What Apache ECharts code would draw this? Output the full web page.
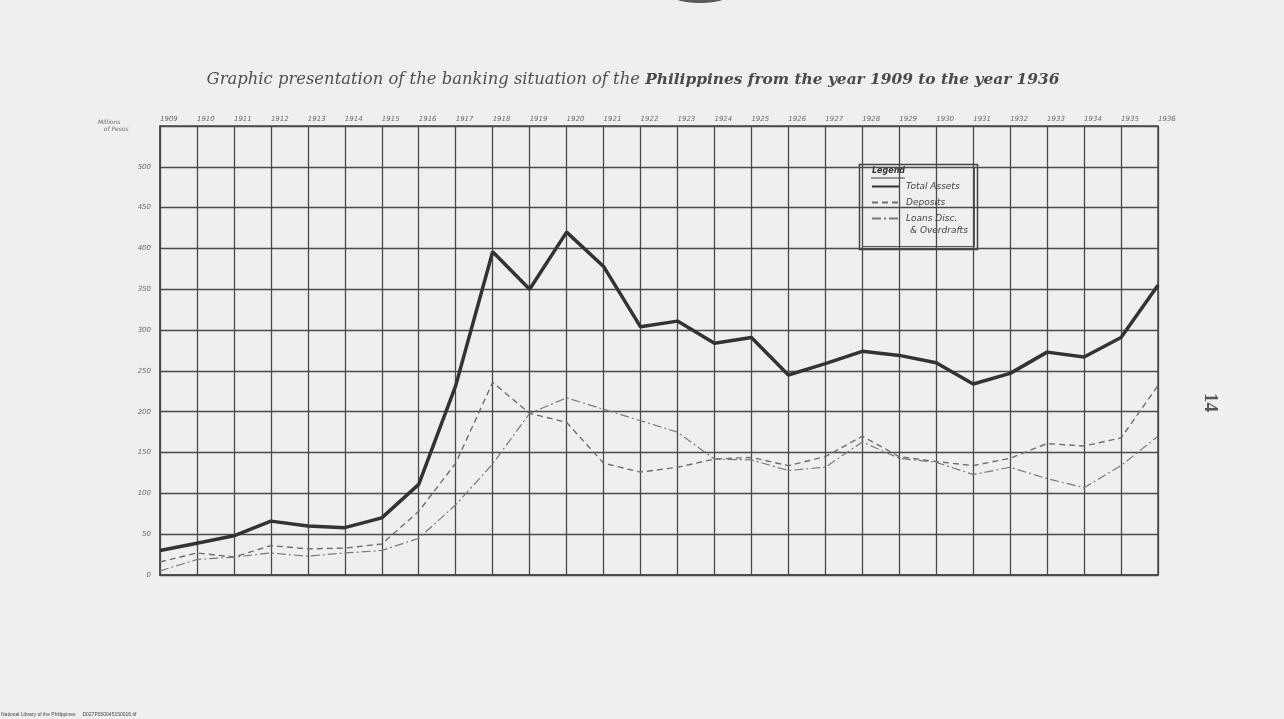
<!DOCTYPE html>
<html>
<head>
<meta charset="utf-8">
<script src="https://cdn.jsdelivr.net/npm/echarts@6/dist/echarts.min.js"></script>
<style>
html,body{margin:0;padding:0;background:#efefed;}
#chart{width:1284px;height:719px;}
</style>
</head>
<body>
<div id="chart"></div>
<script>
var years = ['1909','1910','1911','1912','1913','1914','1915','1916','1917','1918','1919','1920','1921','1922','1923','1924','1925','1926','1927','1928','1929','1930','1931','1932','1933','1934','1935','1936'];
var totalAssets = [30, 39, 48, 66, 60, 58, 70, 111, 232, 396, 350, 420, 378, 304, 311, 284, 291, 245, 259, 274, 269, 260, 234, 247, 273, 267, 291, 355];
var deposits = [16, 27, 22, 36, 32, 33, 38, 78, 137, 236, 198, 187, 137, 126, 132, 142, 144, 134, 145, 170, 145, 139, 134, 143, 161, 158, 168, 232];
var loans = [5, 19, 22, 27, 23, 27, 30, 45, 86, 136, 198, 217, 203, 189, 175, 142, 141, 128, 132, 163, 143, 138, 123, 132, 118, 107, 134, 170];
var yTicks = [0, 50, 100, 150, 200, 250, 300, 350, 400, 450, 500];

var chart = echarts.init(document.getElementById('chart'));
var gridColor = '#4a4a4a';
var hand = {fontFamily: 'DejaVu Sans', fontStyle: 'italic', color: '#6a6a6a'};

chart.setOption({
  backgroundColor: '#efefed',
  animation: false,
  title: {
    text: 'Graphic presentation of the banking situation of the {b|Philippines from the year 1909 to the year 1936}',
    left: 628, top: 67, textAlign: 'center',
    textStyle: {
      fontFamily: 'DejaVu Serif', fontStyle: 'italic', fontWeight: 'normal',
      fontSize: 16.4, color: '#505050',
      rich: {b: {fontFamily: 'DejaVu Serif', fontStyle: 'italic', fontWeight: 'bold', fontSize: 15.4, color: '#4a4a4a'}}
    }
  },
  grid: {left: 160, right: 126, top: 126, bottom: 144, show: true, borderColor: gridColor, borderWidth: 1.5, backgroundColor: 'transparent'},
  legend: {
    left: 866, top: 176, orient: 'vertical', itemWidth: 27, itemHeight: 8, itemGap: 5,
    itemStyle: {opacity: 0},
    textStyle: {fontFamily: 'DejaVu Sans', fontStyle: 'italic', fontSize: 9, color: '#444', lineHeight: 11, padding: [0, 0, 0, 2]},
    data: ['Total Assets', 'Deposits', 'Loans Disc.']
  },
  xAxis: {
    type: 'category', data: years, boundaryGap: false, position: 'top',
    axisLine: {show: true, lineStyle: {color: gridColor, width: 1.5}},
    axisTick: {show: false},
    axisLabel: Object.assign({interval: 0, fontSize: 7, margin: 3, align: 'left'}, hand),
    splitLine: {show: true, interval: 0, lineStyle: {color: gridColor, width: 1.3}}
  },
  yAxis: {
    type: 'value', min: 0, max: 550, interval: 50,
    axisLine: {show: true, lineStyle: {color: gridColor, width: 1.5}},
    axisTick: {show: false},
    axisLabel: Object.assign({fontSize: 7, margin: 9, formatter: function (v) { return yTicks.indexOf(v) >= 0 ? String(v) : ''; }}, hand),
    splitLine: {show: true, lineStyle: {color: gridColor, width: 1.3}}
  },
  series: [
    {name: 'Total Assets', type: 'line', data: totalAssets, symbol: 'none', lineStyle: {color: '#333', width: 3.5}, itemStyle: {color: '#333'}, z: 5},
    {name: 'Deposits', type: 'line', data: deposits, symbol: 'none', lineStyle: {color: '#6e6e6e', width: 1.4, type: [6, 4]}, itemStyle: {color: '#6e6e6e'}, z: 4},
    {name: 'Loans Disc.', type: 'line', data: loans, symbol: 'none', lineStyle: {color: '#7a7a7a', width: 1.2, type: [9, 3, 2, 3]}, itemStyle: {color: '#7a7a7a'}, z: 4}
  ],
  graphic: [
    {type: 'rect', left: 857, top: 162, shape: {width: 118, height: 85}, style: {fill: 'none', stroke: '#444', lineWidth: 1.5}},
    {type: 'rect', left: 860, top: 165, shape: {width: 112, height: 79}, style: {fill: 'none', stroke: '#555', lineWidth: 1}},
    {type: 'text', left: 872, top: 167, style: {text: 'Legend', fontFamily: 'DejaVu Sans', fontStyle: 'italic', fontWeight: 'bold', fontSize: 8, fill: '#333'}},
    {type: 'line', shape: {x1: 871, y1: 178, x2: 905, y2: 178}, style: {stroke: '#444', lineWidth: 1}},
    {type: 'text', left: 910, top: 226, style: {text: '& Overdrafts', fontFamily: 'DejaVu Sans', fontStyle: 'italic', fontSize: 9, fill: '#444'}},
    {type: 'text', left: 98, top: 119, style: {text: 'Millions\n   of Pesos', fontFamily: 'DejaVu Sans', fontStyle: 'italic', fontSize: 6, lineHeight: 7, fill: '#666'}},
    {type: 'text', x: 1219, y: 393, rotation: -Math.PI / 2, style: {text: '14', fontFamily: 'Liberation Serif', fontWeight: 'bold', fontSize: 19, fill: '#555'}},
    {type: 'text', left: 1, top: 712, style: {text: 'National Library of the Philippines     D027P000045150016.tif', fontFamily: 'Liberation Sans', fontSize: 5, fill: '#444'}},
    {type: 'ellipse', shape: {cx: 700, cy: -6, rx: 30, ry: 9}, style: {fill: '#5a5a5a'}}
  ]
});
</script>
</body>
</html>
